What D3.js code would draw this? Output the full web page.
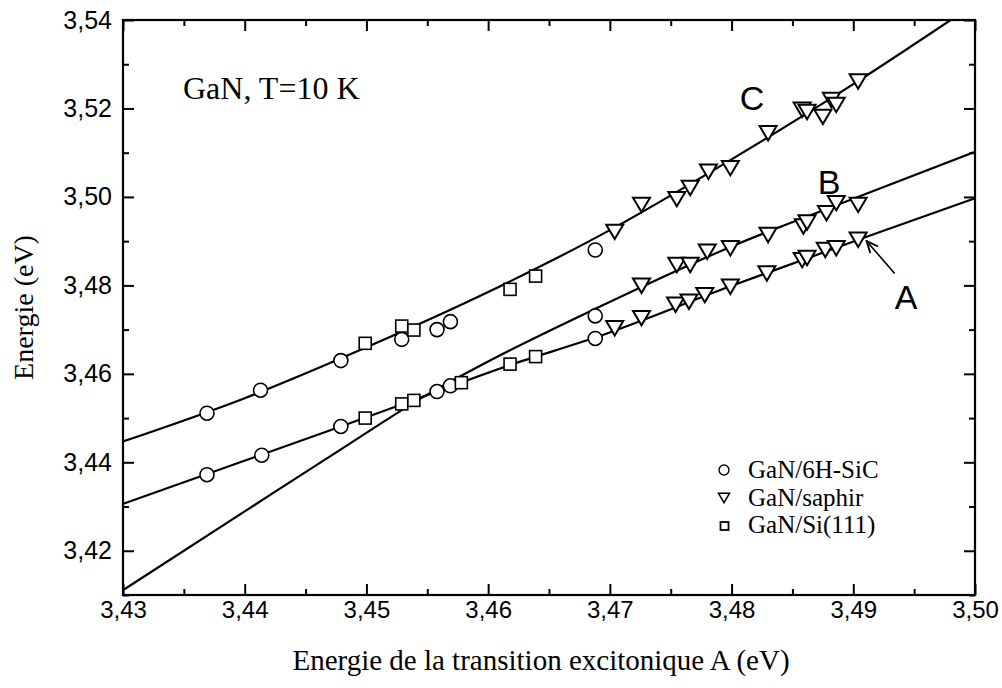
<!DOCTYPE html>
<html>
<head>
<meta charset="utf-8">
<script src="https://cdn.jsdelivr.net/npm/d3@7"></script>
<style>
  body { margin: 0; background: #fff; }
  .tick text { font-family: "Liberation Sans", Arial, sans-serif; fill: #000; }
  .serif { font-family: "Liberation Serif", "Times New Roman", serif; fill: #000; }
  .sans { font-family: "Liberation Sans", Arial, sans-serif; fill: #000; }
</style>
</head>
<body>
<svg id="chart" width="1002" height="688"></svg>
<script>
// axis ticks
var xTicks = [3.43, 3.44, 3.45, 3.46, 3.47, 3.48, 3.49, 3.50];
var xMinor = [3.435, 3.445, 3.455, 3.465, 3.475, 3.485, 3.495];
var yTicks = [3.42, 3.44, 3.46, 3.48, 3.50, 3.52, 3.54];
var yMinor = [3.41, 3.43, 3.45, 3.47, 3.49, 3.51, 3.53];

// fitted curves
var lineCx = [3.430, 3.440, 3.450, 3.460, 3.470, 3.480, 3.490, 3.498];
var lineCy = [3.4447, 3.4545, 3.4660, 3.4785, 3.4925, 3.5085, 3.5255, 3.5400];
var lineAx = [3.430, 3.4479, 3.4539, 3.4618, 3.4688, 3.4799, 3.4904, 3.500];
var lineAy = [3.4306, 3.4481, 3.4541, 3.4620, 3.4682, 3.4798, 3.4903, 3.4997];
var lineBx = [3.430, 3.440, 3.448, 3.455, 3.460, 3.4688, 3.480, 3.490, 3.500];
var lineBy = [3.4111, 3.4289, 3.4431, 3.4553, 3.4628, 3.4747, 3.4888, 3.4996, 3.5102];

// GaN/6H-SiC (circles)
var sicX = [3.4369, 3.4413, 3.4479, 3.4529, 3.4558, 3.4569, 3.4688, 3.4688,
            3.4369, 3.4414, 3.4479, 3.4558, 3.4569, 3.4688];
var sicY = [3.4511, 3.4563, 3.4630, 3.4678, 3.4700, 3.4718, 3.4880, 3.4731,
            3.4372, 3.4416, 3.4481, 3.4560, 3.4573, 3.4680];

// GaN/saphir (triangles)
var sapX = [3.4704, 3.4726, 3.4755, 3.4766, 3.4781, 3.4799, 3.4830, 3.4858, 3.4862, 3.4875, 3.4882, 3.4886, 3.4904,
            3.4726, 3.4755, 3.4766, 3.4780, 3.4799, 3.4830, 3.4859, 3.4862, 3.4878, 3.4886, 3.4904,
            3.4704, 3.4726, 3.4754, 3.4765, 3.4778, 3.4799, 3.4829, 3.4858, 3.4862, 3.4877, 3.4886, 3.4904];
var sapY = [3.4921, 3.4982, 3.4995, 3.5020, 3.5057, 3.5065, 3.5144, 3.5197, 3.5192, 3.5181, 3.5219, 3.5208, 3.5261,
            3.4799, 3.4846, 3.4846, 3.4876, 3.4884, 3.4914, 3.4933, 3.4942, 3.4963, 3.4986, 3.4982,
            3.4703, 3.4726, 3.4756, 3.4763, 3.4778, 3.4797, 3.4827, 3.4857, 3.4862, 3.4880, 3.4884, 3.4903];

// GaN/Si(111) (squares)
var siX = [3.4499, 3.4529, 3.4539, 3.4618, 3.4639,
           3.4499, 3.4529, 3.4539, 3.4578, 3.4618, 3.4639];
var siY = [3.4669, 3.4708, 3.4699, 3.4791, 3.4821,
           3.4500, 3.4532, 3.4540, 3.4580, 3.4622, 3.4639];

var legendNames = ["GaN/6H-SiC", "GaN/saphir", "GaN/Si(111)"];

var width = 1002, height = 688;
var margin = {left: 123, right: 27, top: 20, bottom: 93};

var svg = d3.select("#chart");
var x = d3.scaleLinear().domain([3.43, 3.50]).range([margin.left, width - margin.right]);
var y = d3.scaleLinear().domain([3.41, 3.54]).range([height - margin.bottom, margin.top]);

var fr = d3.formatLocale({decimal: ",", thousands: ".", grouping: [3], currency: ["", ""]});
var fmt = fr.format(".2f");

svg.append("clipPath").attr("id", "plotClip")
  .append("rect")
  .attr("x", x(3.43)).attr("y", y(3.54))
  .attr("width", x(3.50) - x(3.43)).attr("height", y(3.41) - y(3.54));

function pairs(xs, ys) {
  return xs.map(function (d, i) { return [d, ys[i]]; });
}

var line = d3.line()
  .x(function (d) { return x(d[0]); })
  .y(function (d) { return y(d[1]); })
  .curve(d3.curveMonotoneX);

var curves = svg.append("g").attr("clip-path", "url(#plotClip)");
[pairs(lineCx, lineCy), pairs(lineAx, lineAy), pairs(lineBx, lineBy)].forEach(function (c) {
  curves.append("path")
    .datum(c)
    .attr("d", line)
    .attr("fill", "none")
    .attr("stroke", "#000")
    .attr("stroke-width", 2.2);
});

/* axes */
var bottomY = y(3.41), topY = y(3.54);
svg.append("g").attr("transform", "translate(0," + bottomY + ")")
  .call(d3.axisBottom(x).tickValues(xTicks).tickSize(-11).tickPadding(6).tickFormat(fmt))
  .call(function (g) { g.attr("font-size", null); g.selectAll("text").style("font-size", "24px"); });
svg.append("g").attr("transform", "translate(0," + bottomY + ")")
  .call(d3.axisBottom(x).tickValues(xMinor).tickSize(-6).tickFormat(""));
svg.append("g").attr("transform", "translate(0," + topY + ")")
  .call(d3.axisTop(x).tickValues(xTicks).tickSize(-11).tickFormat(""));
svg.append("g").attr("transform", "translate(0," + topY + ")")
  .call(d3.axisTop(x).tickValues(xMinor).tickSize(-6).tickFormat(""));

svg.append("g").attr("transform", "translate(" + x(3.43) + ",0)")
  .call(d3.axisLeft(y).tickValues(yTicks).tickSize(-11).tickPadding(11).tickFormat(fmt))
  .call(function (g) { g.attr("font-size", null); g.selectAll("text").style("font-size", "25px"); });
svg.append("g").attr("transform", "translate(" + x(3.43) + ",0)")
  .call(d3.axisLeft(y).tickValues(yMinor).tickSize(-6).tickFormat(""));
svg.append("g").attr("transform", "translate(" + x(3.50) + ",0)")
  .call(d3.axisRight(y).tickValues(yTicks).tickSize(-11).tickFormat(""));
svg.append("g").attr("transform", "translate(" + x(3.50) + ",0)")
  .call(d3.axisRight(y).tickValues(yMinor).tickSize(-6).tickFormat(""));

svg.selectAll(".domain").remove();
svg.selectAll(".tick line").attr("stroke", "#000").attr("stroke-width", 2);

svg.append("rect")
  .attr("x", x(3.43)).attr("y", y(3.54))
  .attr("width", x(3.50) - x(3.43)).attr("height", y(3.41) - y(3.54))
  .attr("fill", "none").attr("stroke", "#000").attr("stroke-width", 2.2);

/* markers */
function triPath(w) {
  var h = w * 0.85;
  return "M" + (-w / 2) + "," + (-h / 2) + "L" + (w / 2) + "," + (-h / 2) + "L0," + (h / 2) + "Z";
}

var marks = svg.append("g").attr("fill", "#fff").attr("stroke", "#000").attr("stroke-width", 1.6);

marks.selectAll(".sic").data(pairs(sicX, sicY)).enter().append("circle")
  .attr("class", "sic")
  .attr("cx", function (d) { return x(d[0]); })
  .attr("cy", function (d) { return y(d[1]); })
  .attr("r", 7);

marks.selectAll(".si").data(pairs(siX, siY)).enter().append("rect")
  .attr("class", "si")
  .attr("x", function (d) { return x(d[0]) - 6; })
  .attr("y", function (d) { return y(d[1]) - 6; })
  .attr("width", 12).attr("height", 12);

marks.selectAll(".sap").data(pairs(sapX, sapY)).enter().append("path")
  .attr("class", "sap")
  .attr("d", triPath(17))
  .attr("stroke-width", 2)
  .attr("transform", function (d) { return "translate(" + x(d[0]) + "," + y(d[1]) + ")"; });

/* arrow to A */
svg.append("defs").append("marker")
  .attr("id", "head").attr("viewBox", "0 0 10 10")
  .attr("refX", 9).attr("refY", 5)
  .attr("markerWidth", 8).attr("markerHeight", 8)
  .attr("orient", "auto")
  .append("path").attr("d", "M0,1L9,5L0,9").attr("fill", "none").attr("stroke", "#000").attr("stroke-width", 1.5);

svg.append("line")
  .attr("x1", x(3.4934)).attr("y1", y(3.4827))
  .attr("x2", x(3.4911)).attr("y2", y(3.4900))
  .attr("stroke", "#000").attr("stroke-width", 1.6)
  .attr("marker-end", "url(#head)");

/* labels */
svg.append("text").attr("class", "sans").attr("font-size", 34)
  .attr("x", 752).attr("y", 110).attr("text-anchor", "middle").text("C");
svg.append("text").attr("class", "sans").attr("font-size", 34)
  .attr("x", 829).attr("y", 194).attr("text-anchor", "middle").text("B");
svg.append("text").attr("class", "sans").attr("font-size", 34)
  .attr("x", 906).attr("y", 309).attr("text-anchor", "middle").text("A");

svg.append("text").attr("class", "serif").attr("font-size", 32)
  .attr("x", 183).attr("y", 99).text("GaN, T=10 K");

svg.append("text").attr("class", "serif").attr("font-size", 29)
  .attr("x", (x(3.43) + x(3.50)) / 2 - 8).attr("y", 670)
  .attr("text-anchor", "middle")
  .text("Energie de la transition excitonique A (eV)");

svg.append("text").attr("class", "serif").attr("font-size", 28)
  .attr("transform", "translate(33," + ((y(3.41) + y(3.54)) / 2) + ") rotate(-90)")
  .attr("text-anchor", "middle")
  .text("Energie (eV)");

/* legend */
var lg = svg.append("g").attr("transform", "translate(724,470)");
lg.append("circle").attr("cx", 0).attr("cy", 0).attr("r", 5)
  .attr("fill", "none").attr("stroke", "#000").attr("stroke-width", 1.4);
lg.append("path").attr("d", triPath(11)).attr("transform", "translate(0,28)")
  .attr("fill", "none").attr("stroke", "#000").attr("stroke-width", 1.5);
lg.append("rect").attr("x", -3.5).attr("y", 52).attr("width", 8).attr("height", 8)
  .attr("fill", "none").attr("stroke", "#000").attr("stroke-width", 1.8);
lg.selectAll(".lt").data(legendNames).enter().append("text")
  .attr("class", "serif lt")
  .attr("font-size", 25)
  .attr("x", 24)
  .attr("y", function (d, i) { return 8 + i * 27.5; })
  .text(function (d) { return d; });
</script>
</body>
</html>
